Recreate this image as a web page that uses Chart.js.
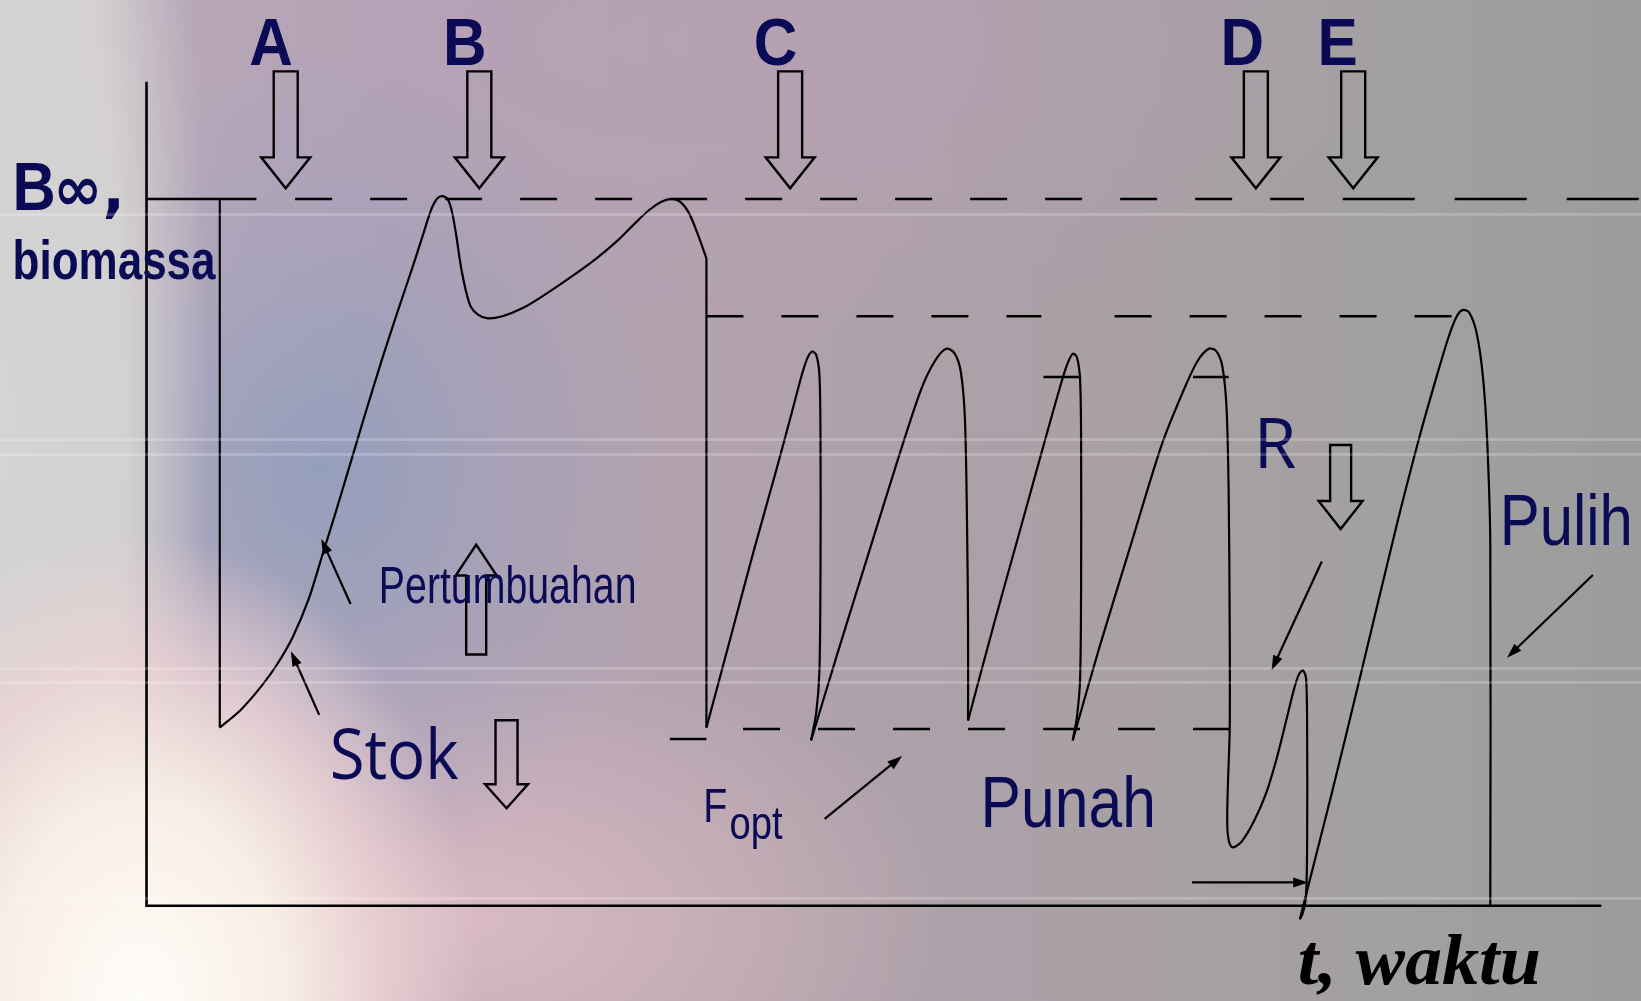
<!DOCTYPE html>
<html>
<head>
<meta charset="utf-8">
<script src="https://cdn.jsdelivr.net/npm/chart.js@4.4.1/dist/chart.umd.min.js"></script>
<style>
html, body { margin: 0; padding: 0; }
#wrap {
    position: relative;
    width: 1641px;
    height: 1001px;
    overflow: hidden;
    background:
        radial-gradient(ellipse 340px 470px at 140px 1001px, #fefcf8 0%, #f8efe6 42%, rgba(238,212,214,0.75) 72%, rgba(225,195,205,0) 100%),
        radial-gradient(ellipse 210px 1000px at 0px 420px, rgba(212,212,212,1) 0%, rgba(214,212,210,0.92) 60%, rgba(214,212,210,0) 100%),
        radial-gradient(ellipse 340px 420px at 320px 470px, rgba(138,156,190,0.75) 0%, rgba(150,160,192,0.35) 55%, rgba(160,160,190,0) 100%),
        radial-gradient(ellipse 480px 280px at 470px 920px, rgba(224,190,198,0.85), rgba(222,190,198,0) 100%),
        radial-gradient(ellipse 700px 300px at 700px 40px, rgba(185,160,185,0.6), rgba(185,160,185,0) 100%),
        linear-gradient(90deg, #bcaebc 0%, #b2a2b4 25%, #b2a2ac 45%, #aaa0a6 65%, #a2a0a0 85%, #9c9c9c 100%);
}
.streak { position: absolute; left: 0; width: 1641px; height: 3px; background: rgba(255,255,255,0.2); }
</style>
</head>
<body>
<div id="wrap">
    <div class="streak" style="top:213px"></div>
    <div class="streak" style="top:438px"></div>
    <div class="streak" style="top:453px"></div>
    <div class="streak" style="top:667px"></div>
    <div class="streak" style="top:681px"></div>
    <div class="streak" style="top:897px"></div>
    <canvas id="chart"></canvas>
</div>
<script>
// Time (t) and biomass (B, B-infinity = 100) of the stock trajectory
const curveT = [7.0, 7.0, 9.0, 11.0, 12.5, 14.0, 15.5, 16.8, 18.0, 19.5, 21.0, 22.5, 24.0, 25.5, 26.5, 27.2, 27.8, 28.3,
    28.8, 29.2, 29.6, 30.0, 30.5, 31.0, 31.7, 32.6, 34.0, 36.0, 38.0, 40.5, 43.0, 45.0, 46.5, 48.0, 49.2, 50.2, 51.0,
    51.8, 52.6, 53.5, 53.5,
    56.0, 58.0, 60.0, 61.5, 62.5, 63.1, 63.6, 64.0, 64.3, 64.4, 64.4, 64.3, 64.0, 63.5,
    66.0, 69.0, 72.0, 74.0, 75.3, 76.4, 77.2, 77.8, 78.2, 78.4, 78.5, 78.5,
    81.0, 83.5, 85.5, 87.0, 87.9, 88.5, 88.9, 89.2, 89.3, 89.3, 89.2, 88.9, 88.5,
    91.0, 94.0, 97.0, 99.0, 100.4, 101.5, 102.2, 102.8, 103.2, 103.4, 103.5, 103.5, 103.3, 103.3, 103.7,
    104.6, 105.8, 107.0, 108.0, 108.9, 109.6, 110.1, 110.5, 110.8, 110.9, 110.9, 110.8, 110.5, 110.2,
    113.2, 116.0, 119.5, 121.7, 123.2, 124.4, 125.2, 125.8, 126.4, 127.1, 127.7, 128.1, 128.4, 128.4];
const curveB = [100.0, 25.2, 27.7, 31.1, 34.2, 38.1, 43.4, 49.6, 55.3, 62.7, 70.1, 77.3, 84.1, 90.7, 95.3, 98.5, 100.1, 100.4,
    99.9, 98.1, 94.8, 90.8, 87.1, 84.7, 83.6, 83.1, 83.4, 84.6, 86.4, 88.9, 91.6, 94.1, 96.3, 98.4, 99.6, 100.0, 99.6,
    98.1, 95.3, 91.6, 25.2,
    39.0, 50.1, 60.7, 68.9, 74.5, 77.3, 78.4, 77.9, 75.1, 65.9, 48.1, 33.3, 27.4, 23.4,
    35.6, 49.9, 64.1, 73.0, 77.0, 78.8, 78.2, 75.6, 68.9, 54.1, 39.3, 26.2,
    40.0, 53.3, 64.0, 71.9, 76.3, 78.1, 77.6, 74.5, 65.9, 45.2, 31.9, 26.7, 23.4,
    36.3, 50.8, 65.2, 72.6, 77.0, 78.8, 78.5, 76.3, 70.4, 58.5, 39.3, 25.0, 15.6, 10.4, 8.3,
    9.0, 11.9, 16.0, 20.9, 26.2, 30.4, 32.7, 33.3, 32.1, 24.4, 9.6, 1.5, -1.0, -1.9,
    15.6, 32.6, 54.1, 66.7, 74.5, 80.4, 83.4, 84.3, 83.9, 81.0, 74.8, 65.9, 51.1, 0];
// indices where the trajectory has a sharp corner (harvest events, collapses)
const cornerIdx = [0, 1, 39, 40, 54, 66, 79, 108, 122];

// Reference levels
const levelBinf = 100;     // B-infinity
const levelHigh = 83.4;    // upper dashed level
const levelFopt = 25.0;    // Fopt level
const levelFoptLow = 23.6;
const levelTick = 74.8;    // short marks under the peaks

// Axis extent
const axisTop = 116.6;
const axisEnd = 139;

// Letter markers A-E (time of each event)
const eventNames = ['A', 'B', 'C', 'D', 'E'];
const eventT = [13.3, 31.8, 61.5, 106.0, 115.3];
const eventLabelT = [11.9, 30.4, 60.1, 104.7, 113.8];

const X_MIN = -14, X_MAX = 142.8;
const Y_MIN = -13.48, Y_MAX = 128.15;

function pts(ts, bs, from, to) {
    const out = [];
    for (let i = from; i <= to; i++) out.push({ x: ts[i], y: bs[i] });
    return out;
}

function seg(t1, t2, b, width, dash) {
    return {
        data: [{ x: t1, y: b }, { x: t2, y: b }],
        showLine: true, borderColor: '#000', borderWidth: width,
        borderDash: dash || [], pointRadius: 0, fill: false
    };
}

const datasets = [
    // axes
    { data: [{ x: 0, y: axisTop }, { x: 0, y: 0 }, { x: axisEnd, y: 0 }], showLine: true,
      borderColor: '#000', borderWidth: 2.6, pointRadius: 0, fill: false },
    // B-infinity line
    seg(0, 10.5, levelBinf, 2.6),
    seg(14.2, 110.6, levelBinf, 2.6, [37, 38]),
    seg(114.3, 142.8, levelBinf, 2.6, [72, 40]),
    // upper dashed level
    seg(53.5, 85.5, levelHigh, 2.6, [37, 38]),
    seg(92.5, 125.0, levelHigh, 2.6, [37, 38]),
    // Fopt level
    seg(57.0, 103.5, levelFopt, 2.6, [37, 38]),
    seg(50.0, 53.5, levelFoptLow, 2.6),
    // short marks
    seg(85.7, 89.3, levelTick, 2.6),
    seg(100.0, 103.4, levelTick, 2.6)
];

// stock trajectory, smooth between the corners
for (let k = 0; k < cornerIdx.length - 1; k++) {
    datasets.push({
        data: pts(curveT, curveB, cornerIdx[k], cornerIdx[k + 1]),
        showLine: true, borderColor: '#000', borderWidth: 2.2,
        pointRadius: 0, fill: false, tension: 0.3
    });
}

// Hollow block arrows: tip position, direction (1 = down, -1 = up), sizes in px
const blockArrows = [
    ...eventT.map(t => ({ t: t, b: 101.5, dir: 1, len: 117, shaft: 24, head: 49, headLen: 31 })),
    { t: 114.1, b: 53.3, dir: 1, len: 84, shaft: 21, head: 44, headLen: 28 },
    { t: 31.5, b: 51.1, dir: -1, len: 110, shaft: 20, head: 41, headLen: 31 },
    { t: 34.4, b: 13.8, dir: 1, len: 88, shaft: 22, head: 43, headLen: 24 }
];

// Thin pointer arrows: from (t1,b1) to (t2,b2)
const pointers = [
    [19.5, 42.7, 16.7, 51.9],
    [16.5, 27.0, 13.8, 36.0],
    [64.8, 12.3, 72.2, 21.2],
    [112.3, 48.7, 107.5, 33.3],
    [138.2, 46.8, 130.0, 35.1],
    [99.9, 3.3, 111.0, 3.3]
];

const NAVY = '#0b0b55';
const labels = [
    ...eventNames.map((n, i) => ({ text: n, t: eventLabelT[i], b: 119.0, font: 'bold 67px "Liberation Sans"', sx: 0.9, align: 'center', color: NAVY })),
    { text: 'B', t: -12.8, b: 98.5, font: 'bold 68px "Liberation Sans"', sx: 0.88, align: 'left', color: NAVY },
    { text: '\u221e,', t: -8.9, b: 98.5, font: 'bold 62px "DejaVu Sans"', sx: 0.95, align: 'left', color: NAVY },
    { text: 'biomassa', t: -12.8, b: 88.7, font: 'bold 55px "Liberation Sans"', sx: 0.8, align: 'left', color: NAVY },
    { text: 'Pertumbuahan', t: 22.2, b: 42.8, font: '51px "Liberation Sans"', sx: 0.77, align: 'left', color: NAVY },
    { text: 'Stok', t: 17.5, b: 17.9, font: '69px "Open Sans"', sx: 0.92, align: 'left', color: NAVY },
    { text: 'F', t: 53.2, b: 11.9, font: '48px "Liberation Sans"', sx: 0.82, align: 'left', color: NAVY },
    { text: 'opt', t: 55.7, b: 9.5, font: '46px "Liberation Sans"', sx: 0.83, align: 'left', color: NAVY },
    { text: 'Punah', t: 79.7, b: 11.1, font: '73px "Liberation Sans"', sx: 0.83, align: 'left', color: NAVY },
    { text: 'R', t: 105.8, b: 61.9, font: '69px "Open Sans"', sx: 1, align: 'left', color: NAVY },
    { text: 'Pulih', t: 129.3, b: 51.1, font: '73px "Liberation Sans"', sx: 0.82, align: 'left', color: NAVY },
    { text: 't, waktu', t: 110.0, b: -11.1, font: 'italic bold 72px "Liberation Serif"', sx: 1.03, align: 'left', color: '#000' }
];

// Draw arrows and text on top of the datasets
const decorPlugin = {
    id: 'decor',
    afterDatasetsDraw(chart) {
        const ctx = chart.ctx;
        const xs = chart.scales.x, ys = chart.scales.y;

        ctx.save();
        ctx.strokeStyle = '#000';
        ctx.lineJoin = 'miter';

        blockArrows.forEach(a => {
            const tx = xs.getPixelForValue(a.t);
            const ty = ys.getPixelForValue(a.b);
            const d = a.dir;
            const w = a.shaft / 2, W = a.head / 2;
            ctx.lineWidth = 2.4;
            ctx.beginPath();
            ctx.moveTo(tx - w, ty - d * a.len);
            ctx.lineTo(tx + w, ty - d * a.len);
            ctx.lineTo(tx + w, ty - d * a.headLen);
            ctx.lineTo(tx + W, ty - d * a.headLen);
            ctx.lineTo(tx, ty);
            ctx.lineTo(tx - W, ty - d * a.headLen);
            ctx.lineTo(tx - w, ty - d * a.headLen);
            ctx.closePath();
            ctx.stroke();
        });

        pointers.forEach(p => {
            const x1 = xs.getPixelForValue(p[0]), y1 = ys.getPixelForValue(p[1]);
            const x2 = xs.getPixelForValue(p[2]), y2 = ys.getPixelForValue(p[3]);
            const ang = Math.atan2(y2 - y1, x2 - x1);
            const hl = 15, hw = 5;
            ctx.lineWidth = 2.2;
            ctx.beginPath();
            ctx.moveTo(x1, y1);
            ctx.lineTo(x2 - Math.cos(ang) * hl * 0.8, y2 - Math.sin(ang) * hl * 0.8);
            ctx.stroke();
            ctx.fillStyle = '#000';
            ctx.beginPath();
            ctx.moveTo(x2, y2);
            ctx.lineTo(x2 - Math.cos(ang) * hl - Math.sin(ang) * hw, y2 - Math.sin(ang) * hl + Math.cos(ang) * hw);
            ctx.lineTo(x2 - Math.cos(ang) * hl + Math.sin(ang) * hw, y2 - Math.sin(ang) * hl - Math.cos(ang) * hw);
            ctx.closePath();
            ctx.fill();
        });

        labels.forEach(l => {
            ctx.save();
            ctx.translate(xs.getPixelForValue(l.t), ys.getPixelForValue(l.b));
            ctx.scale(l.sx, 1);
            ctx.font = l.font;
            ctx.fillStyle = l.color;
            ctx.textAlign = l.align;
            ctx.textBaseline = 'alphabetic';
            ctx.fillText(l.text, 0, 0);
            ctx.restore();
        });
        ctx.restore();
    }
};

new Chart(document.getElementById('chart'), {
    type: 'scatter',
    data: { datasets: datasets },
    options: {
        responsive: true,
        maintainAspectRatio: false,
        animation: false,
        layout: { padding: 0 },
        plugins: { legend: { display: false }, tooltip: { enabled: false } },
        scales: {
            x: { type: 'linear', min: X_MIN, max: X_MAX, display: false },
            y: { type: 'linear', min: Y_MIN, max: Y_MAX, display: false }
        },
        elements: { point: { radius: 0 }, line: { borderCapStyle: 'butt' } }
    },
    plugins: [decorPlugin]
});
</script>
</body>
</html>
